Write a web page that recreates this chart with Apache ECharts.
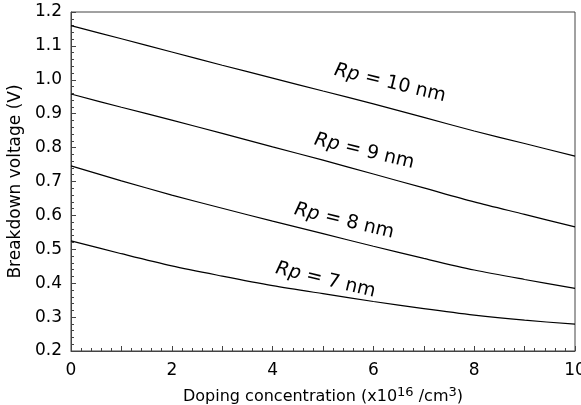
<!DOCTYPE html>
<html>
<head>
<meta charset="utf-8">
<script src="https://cdn.jsdelivr.net/npm/echarts@6/dist/echarts.min.js"></script>
<style>html,body{margin:0;padding:0;background:#fff}#c{width:581px;height:405px}</style>
</head>
<body>
<div id="c"></div>
<script>
var xValues = [0, 1, 2, 3, 4, 5, 6, 7, 8, 9, 10];
var rp10 = [1.160, 1.121, 1.082, 1.043, 1.005, 0.967, 0.929, 0.889, 0.849, 0.812, 0.775];
var rp9  = [0.958, 0.919, 0.881, 0.842, 0.802, 0.763, 0.722, 0.681, 0.640, 0.603, 0.566];
var rp8  = [0.746, 0.702, 0.660, 0.621, 0.583, 0.546, 0.509, 0.473, 0.439, 0.411, 0.385];
var rp7  = [0.525, 0.487, 0.451, 0.421, 0.393, 0.369, 0.346, 0.325, 0.306, 0.291, 0.279];
var seriesNames = ['Rp = 10 nm', 'Rp = 9 nm', 'Rp = 8 nm', 'Rp = 7 nm'];
var labelNums = ['10', '9', '8', '7'];
var labelX = [6.33, 5.82, 5.42, 5.05];
var labelY = [0.990, 0.789, 0.583, 0.409];

var FONT = '"DejaVu Sans", sans-serif';
function pairs(ys) { return xValues.map(function (x, i) { return [x, ys[i]]; }); }
var allY = [rp10, rp9, rp8, rp7];

var series = allY.map(function (ys, i) {
  return {
    name: seriesNames[i], type: 'line', data: pairs(ys), smooth: 0.3,
    showSymbol: false, silent: true,
    lineStyle: { color: '#000', width: 1.2 }
  };
});
series.push({
  type: 'scatter', silent: true, symbolSize: 0,
  itemStyle: { opacity: 1 },
  data: labelX.map(function (x, i) { return [x, labelY[i], labelNums[i]]; }),
  label: {
    show: true, position: 'inside', rotate: -13.5, opacity: 1,
    formatter: function (p) { return '{i|Rp} = ' + p.data[2] + ' nm'; },
    fontFamily: FONT, fontSize: 19, color: '#000',
    rich: { i: { fontStyle: 'italic', fontFamily: FONT, fontSize: 19, color: '#000' } }
  }
});

var chart = echarts.init(document.getElementById('c'));
chart.setOption({
  animation: false,
  backgroundColor: '#fff',
  grid: { left: 71, right: 6, top: 12, bottom: 54, show: true, borderColor: '#444', borderWidth: 1,
    containLabel: false, outerBoundsMode: 'none' },
  xAxis: {
    type: 'value', min: 0, max: 10, interval: 1,
    name: 'Doping concentration (x10{s|16} /cm{s|3})',
    nameLocation: 'middle', nameGap: 35,
    nameTextStyle: { fontFamily: FONT, fontSize: 16, color: '#000',
      rich: { s: { fontFamily: FONT, fontSize: 13, color: '#000', verticalAlign: 'top', padding: [0, 0, 8, 0] } } },
    axisLine: { show: true, lineStyle: { color: '#444', width: 1 } },
    axisTick: { show: true, inside: true, length: 5, lineStyle: { color: '#444' } },
    minorTick: { show: true, splitNumber: 5, length: 3, lineStyle: { color: '#444' } },
    splitLine: { show: false },
    axisLabel: { fontFamily: FONT, fontSize: 17, color: '#000', margin: 11,
      formatter: function (v) { return v % 2 === 0 ? String(v) : ''; } }
  },
  yAxis: {
    type: 'value', min: 0.2, max: 1.2, interval: 0.1,
    name: 'Breakdown voltage (V)',
    nameLocation: 'middle', nameGap: 44,
    nameTextStyle: { fontFamily: FONT, fontSize: 17, color: '#000' },
    axisLine: { show: true, lineStyle: { color: '#444', width: 1 } },
    axisTick: { show: true, inside: true, length: 5, lineStyle: { color: '#444' } },
    minorTick: { show: true, splitNumber: 5, length: 3, lineStyle: { color: '#444' } },
    splitLine: { show: false },
    axisLabel: { fontFamily: FONT, fontSize: 17, color: '#000', margin: 9,
      formatter: function (v) { return v.toFixed(1); } }
  },
  series: series
});
</script>
</body>
</html>
